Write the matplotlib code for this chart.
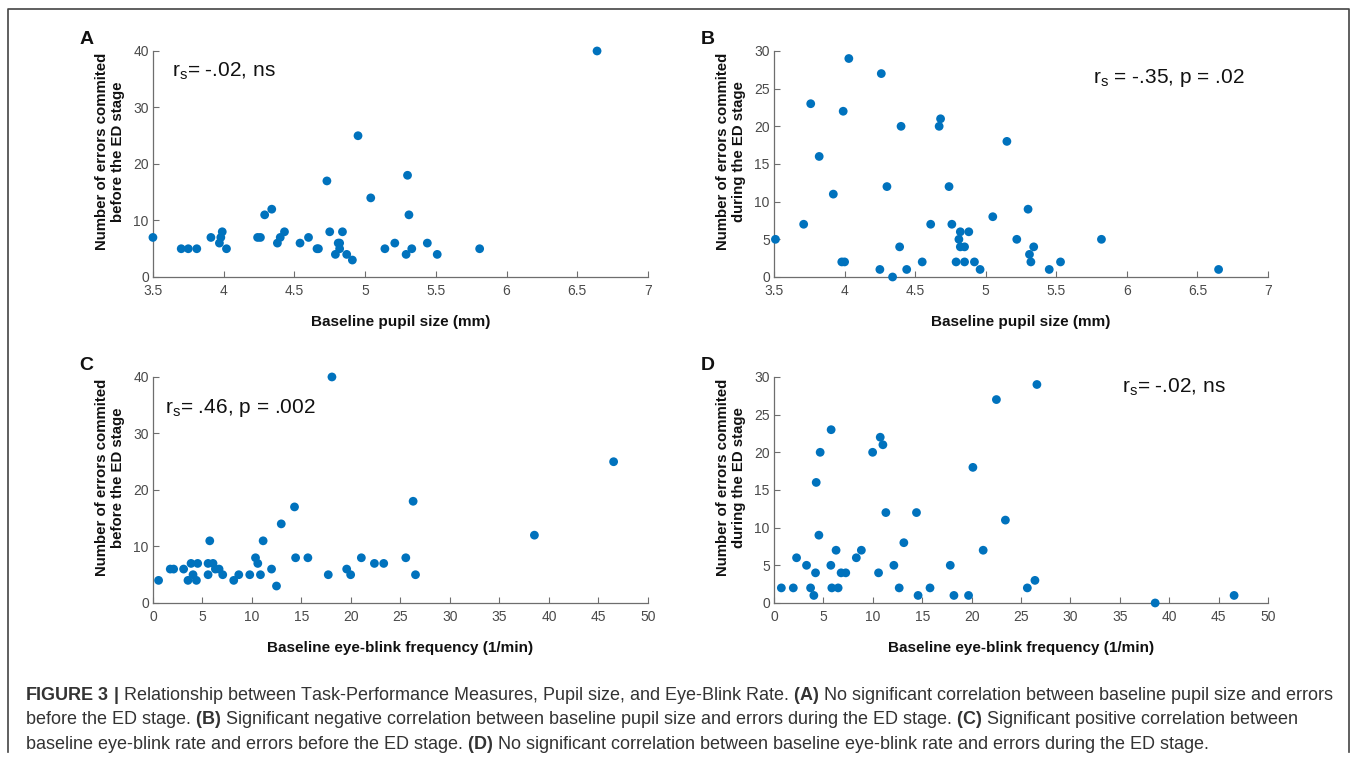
import numpy as np
import matplotlib
matplotlib.use('Agg')
import matplotlib.pyplot as plt
from matplotlib.lines import Line2D

plt.rcParams['font.family'] = ['Liberation Sans', 'DejaVu Sans']
plt.rcParams['mathtext.fontset'] = 'custom'
plt.rcParams['mathtext.rm'] = 'Liberation Sans'
plt.rcParams['mathtext.it'] = 'Liberation Sans:italic'
plt.rcParams['mathtext.bf'] = 'Liberation Sans:bold'

# panel A: pupil size vs errors before ED
pupil_a = [6.64, 3.50, 3.70, 3.75, 3.81, 3.91, 3.97, 3.98, 3.99, 4.02, 4.24, 4.26, 4.29, 4.34,
           4.38, 4.40, 4.43, 4.54, 4.60, 4.66, 4.67, 4.73, 4.75, 4.79, 4.81, 4.82, 4.82, 4.84,
           4.87, 4.91, 4.95, 5.04, 5.14, 5.21, 5.29, 5.30, 5.31, 5.33, 5.44, 5.51, 5.81]
errors_before_a = [40, 7, 5, 5, 5, 7, 6, 7, 8, 5, 7, 7, 11, 12, 6, 7, 8, 6, 7, 5, 5, 17, 8, 4,
                   6, 5, 6, 8, 4, 3, 25, 14, 5, 6, 4, 18, 11, 5, 6, 4, 5]

# panel B: pupil size vs errors during ED
pupil_b = [3.51, 3.71, 3.76, 3.82, 3.92, 3.98, 3.99, 4.00, 4.03, 4.25, 4.26, 4.30, 4.34, 4.39,
           4.40, 4.44, 4.55, 4.61, 4.67, 4.68, 4.74, 4.76, 4.79, 4.81, 4.82, 4.82, 4.85, 4.85,
           4.88, 4.92, 4.96, 5.05, 5.15, 5.22, 5.30, 5.31, 5.32, 5.34, 5.45, 5.53, 5.82, 6.65]
errors_during_b = [5, 7, 23, 16, 11, 2, 22, 2, 29, 1, 27, 12, 0, 4, 20, 1, 2, 7, 20, 21, 12, 7,
                   2, 5, 6, 4, 4, 2, 6, 2, 1, 8, 18, 5, 9, 3, 2, 4, 1, 2, 5, 1]

# panel C: blink rate vs errors before ED
blink_c = [0.57, 1.75, 2.09, 3.10, 3.54, 3.85, 4.05, 4.39, 4.52, 5.57, 5.57, 5.74, 6.07, 6.31,
           6.68, 7.05, 8.16, 8.67, 9.78, 10.36, 10.59, 10.86, 11.13, 11.98, 12.48, 12.96, 14.30,
           14.41, 15.65, 17.71, 18.08, 19.57, 19.97, 21.05, 22.37, 23.31, 25.54, 26.28, 26.52,
           38.53, 46.53]
errors_before_c = [4, 6, 6, 6, 4, 7, 5, 4, 7, 5, 7, 11, 7, 6, 6, 5, 4, 5, 5, 8, 7, 5, 11, 6, 3,
                   14, 17, 8, 8, 5, 40, 6, 5, 8, 7, 7, 8, 18, 5, 12, 25]

# panel D: blink rate vs errors during ED
blink_d = [0.74, 1.95, 2.28, 3.29, 3.70, 4.03, 4.20, 4.27, 4.54, 4.67, 5.75, 5.78, 5.85, 6.28,
           6.49, 6.79, 7.26, 8.33, 8.84, 9.98, 10.58, 10.75, 11.02, 11.32, 12.13, 12.67, 13.14,
           14.42, 14.58, 15.79, 17.84, 18.21, 19.69, 20.13, 21.17, 22.51, 23.42, 25.64, 26.41,
           26.61, 38.58, 46.57]
errors_during_d = [2, 2, 6, 5, 2, 1, 4, 16, 9, 20, 5, 23, 2, 7, 2, 4, 4, 6, 7, 20, 4, 22, 21,
                   12, 5, 2, 8, 12, 1, 2, 5, 1, 1, 18, 7, 27, 11, 2, 3, 29, 0, 1]

pupil_ticks = [3.5, 4, 4.5, 5, 5.5, 6, 6.5, 7]
blink_ticks = list(range(0, 55, 5))

panels = [
    dict(x=pupil_a, y=errors_before_a, letter='A', xlim=(3.5, 7), xticks=pupil_ticks,
         ylim=(0, 40), yticks=range(0, 50, 10),
         xlabel='Baseline pupil size (mm)',
         ylabel='Number of errors commited\nbefore the ED stage',
         stat=r'r$_\mathrm{s}$= -.02, ns', stat_pos=(0.038, 0.886),
         rect=[0.1127, 0.6365, 0.3648, 0.2966]),
    dict(x=pupil_b, y=errors_during_b, letter='B', xlim=(3.5, 7), xticks=pupil_ticks,
         ylim=(0, 30), yticks=range(0, 35, 5),
         xlabel='Baseline pupil size (mm)',
         ylabel='Number of errors commited\nduring the ED stage',
         stat=r'r$_\mathrm{s}$ = -.35, p = .02', stat_pos=(0.646, 0.860),
         rect=[0.5704, 0.6365, 0.3640, 0.2966]),
    dict(x=blink_c, y=errors_before_c, letter='C', xlim=(0, 50), xticks=blink_ticks,
         ylim=(0, 40), yticks=range(0, 50, 10),
         xlabel='Baseline eye-blink frequency (1/min)',
         ylabel='Number of errors commited\nbefore the ED stage',
         stat=r'r$_\mathrm{s}$= .46, p = .002', stat_pos=(0.024, 0.841),
         rect=[0.1127, 0.2087, 0.3648, 0.2966]),
    dict(x=blink_d, y=errors_during_d, letter='D', xlim=(0, 50), xticks=blink_ticks,
         ylim=(0, 30), yticks=range(0, 35, 5),
         xlabel='Baseline eye-blink frequency (1/min)',
         ylabel='Number of errors commited\nduring the ED stage',
         stat=r'r$_\mathrm{s}$= -.02, ns', stat_pos=(0.704, 0.929),
         rect=[0.5704, 0.2087, 0.3640, 0.2966]),
]

fig = plt.figure(figsize=(13.57, 7.62), dpi=100)
fig.patch.set_facecolor('white')

axis_gray = '#6e6e6e'
label_gray = '#4a4a4a'

for p in panels:
    ax = fig.add_axes(p['rect'])
    ax.scatter(p['x'], p['y'], s=40, color='#0072BD', edgecolors='none', clip_on=False, zorder=3)
    ax.set_xlim(*p['xlim'])
    ax.set_ylim(*p['ylim'])
    ax.set_xticks(p['xticks'])
    ax.set_xticklabels(['%g' % t for t in p['xticks']])
    ax.set_yticks(list(p['yticks']))
    for side in ['top', 'right']:
        ax.spines[side].set_visible(False)
    for side in ['left', 'bottom']:
        ax.spines[side].set_color(axis_gray)
        ax.spines[side].set_linewidth(0.9)
    ax.tick_params(direction='in', length=4, width=0.8, color=axis_gray,
                   labelcolor=label_gray, labelsize=10)
    ax.tick_params(axis='x', pad=5)
    ax.tick_params(axis='y', pad=3)
    ax.set_xlabel(p['xlabel'], fontsize=11, fontweight='bold', color='#111111')
    ax.xaxis.set_label_coords(0.5, -0.17)
    ax.set_ylabel(p['ylabel'], fontsize=10.8, fontweight='bold', color='#111111',
                  linespacing=1.15, va='center', ha='center')
    ax.yaxis.set_label_coords(-0.087, 0.555)
    ax.text(p['stat_pos'][0], p['stat_pos'][1], p['stat'], transform=ax.transAxes,
            fontsize=15, va='baseline', ha='left', color='#111111')
    ax.text(-0.135, 1.05, p['letter'], transform=ax.transAxes, fontsize=14,
            fontweight='bold', va='center', ha='center', color='#111111')

# caption with bold segments via mathtext
caption_lines = [
    r'$\mathbf{FIGURE\ 3\ |}$ Relationship between Task-Performance Measures, Pupil size, and '
    r'Eye-Blink Rate. $\mathbf{(A)}$ No significant correlation between baseline pupil size and errors',
    r'before the ED stage. $\mathbf{(B)}$ Significant negative correlation between baseline pupil '
    r'size and errors during the ED stage. $\mathbf{(C)}$ Significant positive correlation between',
    r'baseline eye-blink rate and errors before the ED stage. $\mathbf{(D)}$ No significant '
    r'correlation between baseline eye-blink rate and errors during the ED stage.',
]
caption_baseline = [699.5, 724.5, 749]
for line, ypix in zip(caption_lines, caption_baseline):
    fig.text(25 / 1357, 1 - ypix / 762, line, fontsize=12.95, color='#333333',
             va='baseline', ha='left')

# outer frame (open at the bottom)
fx = [8 / 1357, 8 / 1357, 1349 / 1357, 1349 / 1357]
fy = [1 - 752 / 762, 1 - 9 / 762, 1 - 9 / 762, 1 - 752 / 762]
fig.add_artist(Line2D(fx, fy, transform=fig.transFigure, color='#444444', linewidth=1.2))

fig.savefig('out.png', dpi=100)
